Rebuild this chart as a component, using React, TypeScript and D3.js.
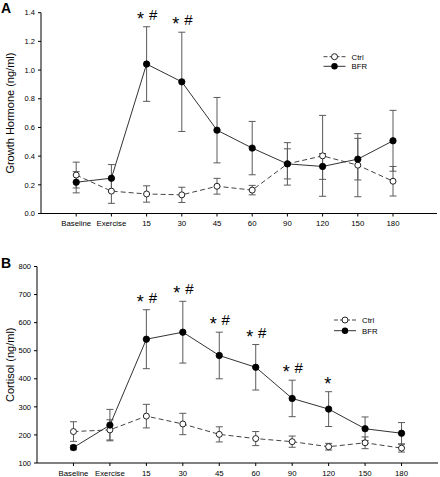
import React from "react";
import * as d3 from "d3";

const categories = ["Baseline", "Exercise", "15", "30", "45", "60", "90", "120", "150", "180"];

// Panel A: Growth Hormone (ng/ml)
const ghCtrl = [0.268, 0.156, 0.136, 0.13, 0.19, 0.163, 0.346, 0.402, 0.337, 0.225];
const ghCtrlErr = [0.09, 0.085, 0.057, 0.053, 0.055, 0.033, 0.105, 0.282, 0.22, 0.103];
const ghBfr = [0.218, 0.246, 1.042, 0.918, 0.581, 0.456, 0.346, 0.328, 0.379, 0.507];
const ghBfrErr = [0.074, 0.095, 0.26, 0.346, 0.228, 0.186, 0.148, 0.09, 0.145, 0.212];
const ghSig = ["", "", "* #", "* #", "", "", "", "", "", ""];
const ghTicks = [0, 0.2, 0.4, 0.6, 0.8, 1.0, 1.2, 1.4];

// Panel B: Cortisol (ng/ml)
const cortCtrl = [212, 218, 267, 239, 202, 187, 176, 158, 172, 153];
const cortCtrlErr = [35, 36, 42, 38, 27, 25, 20, 12, 21, 14];
const cortBfr = [155, 235, 541, 566, 483, 441, 330, 292, 222, 206];
const cortBfrErr = [8, 56, 105, 110, 83, 81, 65, 62, 42, 38];
const cortSig = ["", "", "* #", "* #", "* #", "* #", "* #", "*", "", ""];
const cortTicks = [100, 200, 300, 400, 500, 600, 700, 800];

const FONT = "'Liberation Sans', Arial, Helvetica, sans-serif";

type PanelProps = {
  letter: string;
  letterY: number;
  title: string;
  xDomain: [number, number];
  xRange: [number, number];
  yDomain: [number, number];
  yRange: [number, number];
  ticks: number[];
  fmt: (v: number) => string;
  ctrl: number[];
  ctrlErr: number[];
  bfr: number[];
  bfrErr: number[];
  sig: string[];
  legendX: number;
  legendY: number;
  legendGap: number;
};

function Panel(p: PanelProps) {
  const x = d3.scaleLinear().domain(p.xDomain).range(p.xRange);
  const y = d3.scaleLinear().domain(p.yDomain).range(p.yRange);
  const idx = categories.map((_, i) => i);
  const line = d3
    .line<number>()
    .x((_, i) => x(i))
    .y((d) => y(d));
  const x0 = p.xRange[0];
  const x1 = p.xRange[1];
  const y0 = p.yRange[0];
  const titleY = (p.yRange[0] + p.yRange[1]) / 2;

  const errBars = (vals: number[], errs: number[], key: string) =>
    idx.map((i) => {
      const cx = x(i);
      const top = y(vals[i] + errs[i]);
      const bot = y(vals[i] - errs[i]);
      return (
        <g key={key + i} stroke="#5a5a5a" strokeWidth={1}>
          <line x1={cx} x2={cx} y1={top} y2={bot} />
          <line x1={cx - 3.5} x2={cx + 3.5} y1={top} y2={top} />
          <line x1={cx - 3.5} x2={cx + 3.5} y1={bot} y2={bot} />
        </g>
      );
    });

  return (
    <g>
      <text x={1} y={p.letterY} fontFamily={FONT} fontWeight="bold" fontSize={14}>
        {p.letter}
      </text>
      {/* axes */}
      <line x1={x0} x2={x0} y1={y0} y2={p.yRange[1]} stroke="#000" strokeWidth={1} />
      <line x1={x0} x2={x1} y1={y0} y2={y0} stroke="#000" strokeWidth={1} />
      {p.ticks.map((t) => (
        <g key={"yt" + t}>
          <line x1={x0 - 3} x2={x0} y1={y(t)} y2={y(t)} stroke="#000" />
          <text
            x={x0 - 6}
            y={y(t) + 2.7}
            textAnchor="end"
            fontFamily={FONT}
            fontSize={7.5}
          >
            {p.fmt(t)}
          </text>
        </g>
      ))}
      {idx.map((i) => (
        <g key={"xt" + i}>
          <line x1={x(i)} x2={x(i)} y1={y0} y2={y0 + 3} stroke="#000" />
          <text x={x(i)} y={y0 + 12.5} textAnchor="middle" fontFamily={FONT} fontSize={7.8}>
            {categories[i]}
          </text>
        </g>
      ))}
      <text
        transform={`translate(14,${titleY}) rotate(-90)`}
        textAnchor="middle"
        fontFamily={FONT}
        fontSize={11}
      >
        {p.title}
      </text>
      {/* error bars */}
      {errBars(p.ctrl, p.ctrlErr, "ce")}
      {errBars(p.bfr, p.bfrErr, "be")}
      {/* lines */}
      <path d={line(p.ctrl) || ""} fill="none" stroke="#444" strokeWidth={1} strokeDasharray="5,3" />
      <path d={line(p.bfr) || ""} fill="none" stroke="#333" strokeWidth={1} />
      {/* markers */}
      {idx.map((i) => (
        <circle key={"cm" + i} cx={x(i)} cy={y(p.ctrl[i])} r={3} fill="#fff" stroke="#222" strokeWidth={1} />
      ))}
      {idx.map((i) => (
        <circle key={"bm" + i} cx={x(i)} cy={y(p.bfr[i])} r={3.2} fill="#000" stroke="#000" strokeWidth={0.8} />
      ))}
      {/* significance */}
      {idx.map((i) => {
        const s = p.sig[i];
        if (!s) return null;
        const capY = y(p.bfr[i] + p.bfrErr[i]);
        const by = capY - 7;
        if (s === "*") {
          return (
            <text key={"sg" + i} x={x(i) - 1} y={by + 5} textAnchor="middle" fontFamily={FONT} fontSize={18}>
              *
            </text>
          );
        }
        return (
          <g key={"sg" + i} fontFamily={FONT}>
            <text x={x(i) - 6} y={by + 5} textAnchor="middle" fontSize={18}>
              *
            </text>
            <text x={x(i) + 6.5} y={by} textAnchor="middle" fontSize={15}>
              #
            </text>
          </g>
        );
      })}
      {/* legend */}
      <g>
        <line x1={p.legendX} x2={p.legendX + 22} y1={p.legendY} y2={p.legendY} stroke="#444" strokeDasharray="4,2" />
        <circle cx={p.legendX + 11} cy={p.legendY} r={3} fill="#fff" stroke="#222" />
        <text x={p.legendX + 28} y={p.legendY + 2.8} fontFamily={FONT} fontSize={7.8}>
          Ctrl
        </text>
        <line
          x1={p.legendX}
          x2={p.legendX + 22}
          y1={p.legendY + p.legendGap}
          y2={p.legendY + p.legendGap}
          stroke="#333"
        />
        <circle cx={p.legendX + 11} cy={p.legendY + p.legendGap} r={3.2} fill="#000" />
        <text x={p.legendX + 28} y={p.legendY + p.legendGap + 2.8} fontFamily={FONT} fontSize={7.8}>
          BFR
        </text>
      </g>
    </g>
  );
}

export default function App() {
  return (
    <svg
      width={440}
      height={477}
      style={{ position: "absolute", left: 0, top: 0, background: "#fff" }}
    >
      <rect width={440} height={477} fill="#fff" />
      <Panel
        letter="A"
        letterY={13}
        title="Growth Hormone (ng/ml)"
        xDomain={[-1, 10.25]}
        xRange={[41, 437]}
        yDomain={[0, 1.4]}
        yRange={[213.5, 12.7]}
        ticks={ghTicks}
        fmt={d3.format(".1f")}
        ctrl={ghCtrl}
        ctrlErr={ghCtrlErr}
        bfr={ghBfr}
        bfrErr={ghBfrErr}
        sig={ghSig}
        legendX={323.5}
        legendY={56.7}
        legendGap={9.6}
      />
      <Panel
        letter="B"
        letterY={268}
        title="Cortisol (ng/ml)"
        xDomain={[-1, 10]}
        xRange={[37, 438]}
        yDomain={[100, 800]}
        yRange={[463, 266.5]}
        ticks={cortTicks}
        fmt={d3.format("d")}
        ctrl={cortCtrl}
        ctrlErr={cortCtrlErr}
        bfr={cortBfr}
        bfrErr={cortBfrErr}
        sig={cortSig}
        legendX={334}
        legendY={320}
        legendGap={10.7}
      />
    </svg>
  );
}
